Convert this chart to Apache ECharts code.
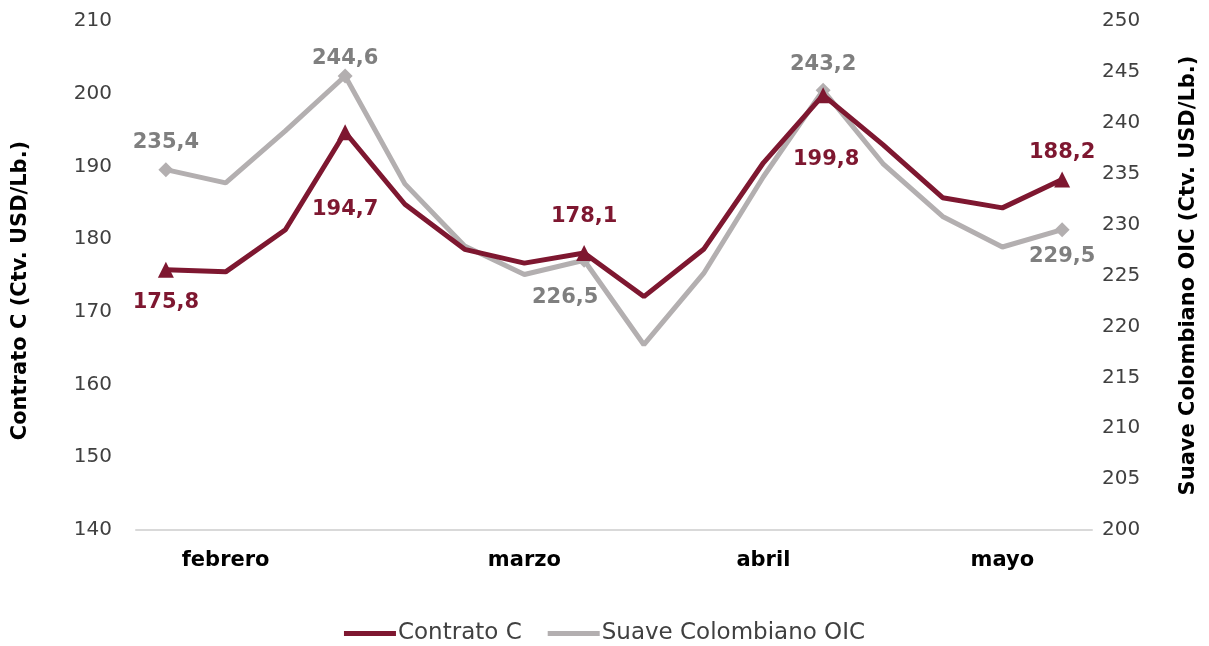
<!DOCTYPE html>
<html>
<head>
<meta charset="utf-8">
<script src="https://cdn.jsdelivr.net/npm/echarts@6/dist/echarts.min.js"></script>
<style>
  html, body { margin: 0; padding: 0; background: #fff; }
  #ct1 { width: 1209px; height: 646px; }
</style>
</head>
<body>
<div id="ct1"></div>
<script>
// categorias semanales, solo algunas llevan el nombre del mes
var categorias = ['', 'febrero', '', '', '', '', 'marzo', '', '', '', 'abril', '', '', '', 'mayo', ''];
var contratoC = [175.8, 175.5, 181.3, 194.7, 184.8, 178.6, 176.7, 178.1, 172.1, 178.6, 190.5, 199.8, 193.0, 185.7, 184.3, 188.2];
var suaveOIC = [235.4, 234.1, 239.2, 244.6, 234.0, 227.9, 225.1, 226.5, 218.2, 225.2, 234.7, 243.2, 236.0, 230.8, 227.8, 229.5];
// puntos con etiqueta (desplazamiento de la etiqueta respecto al punto)
var etiquetasContrato = { 0: [0, 33], 3: [0, 77], 7: [0, -36], 11: [3, 64], 15: [0, -27] };
var etiquetasSuave = { 0: [0, -27], 3: [0, -17], 7: [-19, 37], 11: [0, -26], 15: [0, 27] };

window.onload = function () {
    var myChart = echarts.init(document.getElementById('ct1'));
    var fuente = 'DejaVu Sans';
    var rojo = '#7E1730';
    var gris = '#B3AFB0';

    function armar(valores, etiquetas) {
        return valores.map(function (v, i) {
            var off = etiquetas[i];
            if (!off) {
                return { value: v, symbolSize: 0, label: { show: false } };
            }
            return { value: v, label: { show: true, position: 'inside', offset: off } };
        });
    }

    function coma(p) { return String(p.value).replace('.', ','); }

    var option = {
        textStyle: { fontFamily: fuente },
        legend: {
            bottom: -4,
            left: 'center',
            itemWidth: 52,
            itemHeight: 5,
            itemGap: 26,
            icon: 'rect',
            textStyle: { fontSize: 23, color: '#404040', fontFamily: fuente, padding: [0, 0, 0, -3] },
            data: [
                { name: 'Contrato C', itemStyle: { color: rojo } },
                { name: 'Suave Colombiano OIC', itemStyle: { color: gris } }
            ]
        },
        grid: { left: 136, right: 117, top: 21, bottom: 116 },
        xAxis: {
            type: 'category',
            data: categorias,
            boundaryGap: true,
            axisTick: { show: false },
            axisLine: { lineStyle: { color: '#D9D9D9', width: 2 } },
            axisLabel: {
                interval: 0,
                margin: 20,
                fontSize: 21,
                fontWeight: 'bold',
                color: '#000',
                fontFamily: fuente
            }
        },
        yAxis: [{
            type: 'value',
            min: 140,
            max: 210,
            interval: 10,
            name: 'Contrato C (Ctv. USD/Lb.)',
            nameLocation: 'middle',
            nameGap: 105,
            nameTextStyle: { fontSize: 21, fontWeight: 'bold', color: '#000', fontFamily: fuente, padding: [0, 30, 0, 0] },
            splitLine: { show: false },
            axisLine: { show: false },
            axisTick: { show: false },
            axisLabel: { fontSize: 20, color: '#404040', margin: 24, fontFamily: fuente }
        }, {
            type: 'value',
            min: 200,
            max: 250,
            interval: 5,
            name: 'Suave Colombiano OIC (Ctv. USD/Lb.)',
            nameLocation: 'middle',
            nameGap: 86,
            nameTextStyle: { fontSize: 21, fontWeight: 'bold', color: '#000', fontFamily: fuente },
            splitLine: { show: false },
            axisLine: { show: false },
            axisTick: { show: false },
            axisLabel: { fontSize: 20, color: '#404040', margin: 10, fontFamily: fuente }
        }],
        series: [{
            name: 'Suave Colombiano OIC',
            type: 'line',
            yAxisIndex: 1,
            data: armar(suaveOIC, etiquetasSuave),
            symbol: 'diamond',
            symbolSize: 15,
            showAllSymbol: true,
            lineStyle: { color: gris, width: 5 },
            itemStyle: { color: gris },
            label: {
                formatter: coma,
                fontSize: 21,
                fontWeight: 'bold',
                color: '#7F7F7F',
                fontFamily: fuente
            },
            z: 2
        }, {
            name: 'Contrato C',
            type: 'line',
            yAxisIndex: 0,
            data: armar(contratoC, etiquetasContrato),
            symbol: 'triangle',
            symbolSize: 16,
            showAllSymbol: true,
            lineStyle: { color: rojo, width: 5 },
            itemStyle: { color: rojo },
            label: {
                formatter: coma,
                fontSize: 21,
                fontWeight: 'bold',
                color: rojo,
                fontFamily: fuente
            },
            z: 3
        }]
    };

    myChart.setOption(option);
};
</script>
</body>
</html>
